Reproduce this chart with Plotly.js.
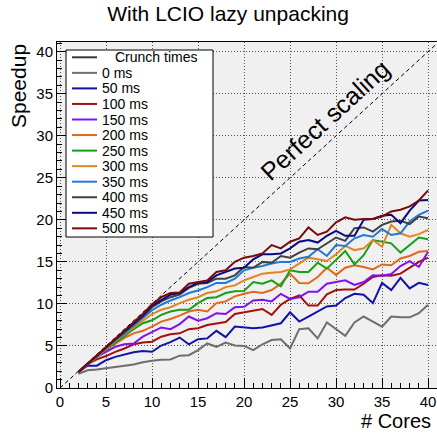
<!DOCTYPE html>
<html><head><meta charset="utf-8">
<script src="https://cdn.plot.ly/plotly-3.0.1.min.js"></script>
<style>html,body{margin:0;padding:0;background:#fff}</style>
</head><body><div id="chart" style="width:437px;height:434px"></div>
<script>
// ---- data ----
const cores = [2,3,4,5,6,7,8,9,10,11,12,13,14,15,16,17,18,19,20,21,22,23,24,25,26,27,28,29,30,31,32,33,34,35,36,37,38,39,40];
const speedup0   = [1.7,2.1,2.2,2.35,2.5,2.7,2.8,3.05,3.25,3.35,3.4,3.85,3.9,4.5,5.3,4.9,5.4,5.05,5.0,4.5,5.2,5.7,5.8,4.7,7.0,7.1,5.9,7.8,7.0,6.2,7.8,8.5,7.9,7.3,8.5,8.4,8.4,8.9,9.9];
const speedup50  = [1.9,2.65,2.65,3.3,3.7,4.0,4.25,4.4,4.3,5.05,5.45,6.0,5.2,5.8,5.9,6.8,6.05,7.3,7.2,7.1,7.2,7.45,7.7,9.0,7.9,8.5,9.1,9.7,9.8,10.7,11.2,11.1,10.1,12.5,11.65,13.1,11.85,12.5,12.25];
const speedup100 = [1.9,2.85,3.4,3.8,4.3,4.7,5.2,5.4,5.5,6.1,6.4,6.5,7.0,7.1,7.5,7.7,7.85,8.8,9.0,9.2,9.4,8.7,9.9,10.6,11.0,9.8,9.8,11.15,11.65,11.7,11.7,12.4,13.2,13.4,13.35,13.6,14.3,15.0,15.5];
const speedup150 = [1.9,2.95,3.7,4.3,4.9,5.2,5.3,6.1,6.7,7.2,7.0,7.6,8.5,8.0,8.3,8.9,8.8,9.6,9.65,10.4,10.5,10.3,11.2,10.6,10.8,11.45,11.45,12.4,12.6,12.8,12.25,12.6,13.4,13.35,13.55,14.5,15.1,14.4,16.2];
const speedup200 = [1.9,2.85,3.7,4.55,5.3,5.95,6.5,6.8,7.3,7.9,8.2,8.6,9.1,9.3,9.1,10.1,10.3,10.9,11.2,11.45,11.3,11.65,12.4,13.6,12.5,12.45,13.2,14.3,13.45,14.3,14.6,14.4,14.1,14.7,14.6,15.4,15.7,16.2,16.3];
const speedup250 = [1.9,2.85,3.7,4.6,5.4,6.3,7.0,7.7,8.05,8.7,9.1,9.3,9.3,10.1,10.7,10.8,11.3,11.5,11.55,12.6,12.4,12.8,12.1,14.0,13.8,13.8,14.9,14.2,15.3,16.3,14.7,15.8,17.6,17.4,17.2,16.1,17.0,17.9,17.7];
const speedup300 = [1.9,2.85,3.8,4.7,5.6,6.4,7.2,8.0,8.8,9.3,9.6,10.1,10.5,10.8,11.3,11.5,12.0,12.2,12.8,13.2,13.6,13.7,13.8,14.1,14.8,15.5,15.3,15.1,15.9,16.9,16.4,16.6,17.6,16.8,19.4,18.4,18.0,18.3,18.8];
const speedup350 = [1.9,2.9,3.8,4.75,5.7,6.5,7.4,8.25,9.25,9.9,10.4,10.8,11.3,11.6,12.0,12.5,12.5,13.0,14.0,14.3,14.5,14.8,15.0,15.0,15.4,15.6,16.5,15.7,17.0,16.9,17.8,18.2,18.0,18.9,18.2,18.4,19.8,20.6,21.1];
const speedup400 = [1.9,2.9,3.85,4.8,5.75,6.7,7.6,8.5,9.6,10.3,10.8,11.1,11.9,12.4,12.5,13.0,13.0,13.4,14.4,14.3,15.0,14.9,15.7,15.5,16.1,16.6,16.5,17.2,17.9,17.5,19.0,19.1,18.6,19.4,19.8,19.9,19.5,20.4,20.2];
const speedup450 = [1.9,2.9,3.85,4.85,5.8,6.75,7.7,8.65,9.8,10.5,11.1,11.3,12.0,12.5,12.6,13.4,13.8,14.2,14.3,15.3,15.9,15.9,16.0,16.6,17.4,17.6,17.3,18.1,18.7,18.1,18.1,20.0,20.1,20.5,20.6,19.6,21.1,22.3,22.35];
const speedup500 = [1.9,2.9,3.9,4.9,5.9,6.85,7.8,8.8,9.95,10.8,11.3,11.35,12.4,12.6,12.8,13.8,14.0,15.0,15.5,15.7,16.0,17.0,16.6,17.4,17.8,19.1,18.2,18.6,19.7,20.3,20.0,20.1,20.1,20.4,21.0,21.2,21.6,22.3,23.5];
const seriesLabels = ['0 ms','50 ms','100 ms','150 ms','200 ms','250 ms','300 ms','350 ms','400 ms','450 ms','500 ms'];
const seriesValues = [speedup0,speedup50,speedup100,speedup150,speedup200,speedup250,speedup300,speedup350,speedup400,speedup450,speedup500];
const legendHeader = 'Crunch times';
const perfectX = [0, 41];
const perfectY = [0, 41];
const perfectLabel = 'Perfect scaling';
const xTitle = '# Cores', yTitle = 'Speedup', chartTitle = 'With LCIO lazy unpacking';

// ---- style ----
const colors = ['#6e6e6e','#1212a8','#a50f0f','#8010f0','#e0681a','#14a014','#e08424','#1c7ad8','#404040','#0a0a80','#7a0a0a'];
const headerColor = '#3a3a3a';
const FONT = 'Liberation Sans, Arial, sans-serif';
const W=437, H=434, M={l:57,r:0,t:42,b:46};
const pw=W-M.l-M.r, ph=H-M.t-M.b;
const px2x = p => (p-M.l)/pw;
const py2y = p => 1-(p-M.t)/ph;

const traces = [{
  x: perfectX, y: perfectY, mode:'lines', showlegend:false, hoverinfo:'skip',
  line:{color:'#000', width:1, dash:'4px,3px'}
}];
seriesValues.forEach((v,i)=>{
  traces.push({x:cores, y:v, mode:'lines', name:seriesLabels[i], showlegend:false,
    line:{color:colors[i], width:2}});
});

// custom legend
const shapes = [{type:'rect', xref:'paper', yref:'paper', x0:px2x(66), x1:px2x(213), y0:py2y(237), y1:py2y(50),
  fillcolor:'#fff', line:{color:'#000', width:1}, layer:'above'}];
const annotations = [];
const entryY = i => 57.3 + i*15.55;
const legColors = [headerColor].concat(colors);
const legTexts = [legendHeader].concat(seriesLabels);
legTexts.forEach((t,i)=>{
  const y = py2y(entryY(i));
  shapes.push({type:'line', xref:'paper', yref:'paper', x0:px2x(72), x1:px2x(97), y0:y, y1:y,
    line:{color:legColors[i], width:2}, layer:'above'});
  annotations.push({xref:'paper', yref:'paper', x:px2x(i===0?114:101), y:y, xanchor:'left', yanchor:'middle',
    text:t, showarrow:false, borderpad:0, font:{family:FONT, size:14, color:'#000'}});
});
annotations.push({xref:'paper', yref:'paper', x:px2x(325), y:py2y(120), xanchor:'center', yanchor:'middle',
  text:perfectLabel, showarrow:false, textangle:-42.4, font:{family:FONT, size:25, color:'#000'}});
annotations.push({xref:'paper', yref:'paper', x:px2x(18), y:py2y(42), xanchor:'center', yanchor:'top',
  text:yTitle, textangle:-90, showarrow:false, font:{family:FONT, size:21, color:'#000'}});
annotations.push({xref:'paper', yref:'paper', x:px2x(433), y:py2y(421), xanchor:'right', yanchor:'middle',
  text:xTitle, showarrow:false, font:{family:FONT, size:20, color:'#000'}});

const axisCommon = {
  showline:true, linecolor:'#000', linewidth:1,
  ticks:'inside', tickcolor:'#000', tickwidth:1, dtick:5, tick0:0,
  showgrid:true, gridcolor:'#555', gridwidth:1, griddash:'1px,2px',
  zeroline:false, tickfont:{family:FONT, size:15, color:'#000'},
  minor:{dtick:1, ticks:'inside', ticklen:5, tickcolor:'#000', showgrid:false}
};
const layout = {
  width:W, height:H, margin:M, paper_bgcolor:'#fff', plot_bgcolor:'#f0f0f0',
  showlegend:false,
  title:{text:chartTitle, x:0.522, xref:'container', xanchor:'center', y:1-14/H, yref:'container', yanchor:'middle',
    font:{family:FONT, size:21, color:'#000'}},
  xaxis:Object.assign({}, axisCommon, {range:[-0.33,40.97], ticklen:10, mirror:true}),
  yaxis:Object.assign({}, axisCommon, {range:[0,41.15], ticklen:10, mirror:false}),
  shapes:shapes, annotations:annotations
};
Plotly.newPlot('chart', traces, layout, {staticPlot:true, displayModeBar:false});
</script></body></html>
